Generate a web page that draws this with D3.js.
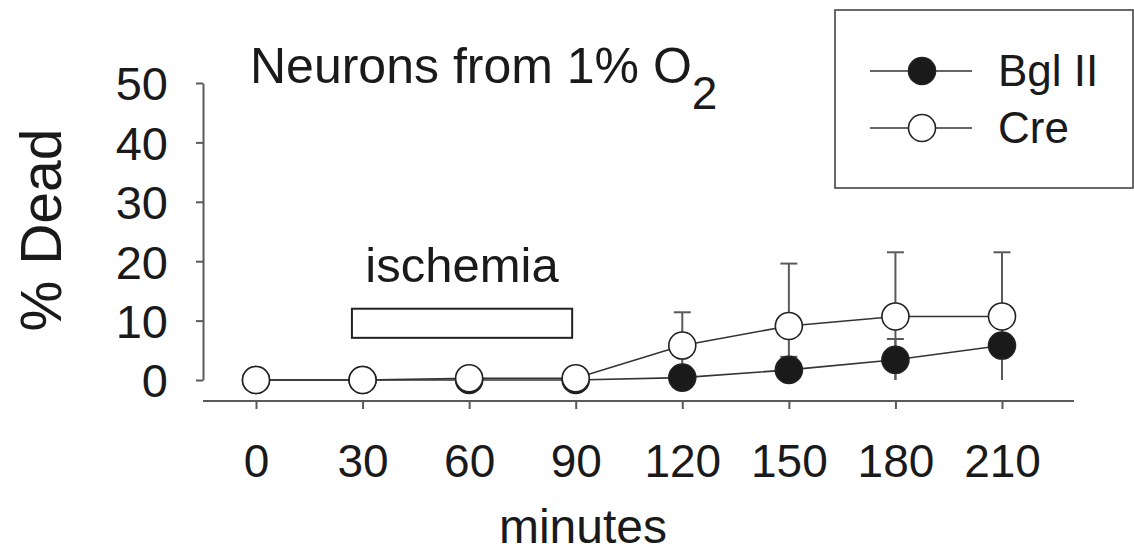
<!DOCTYPE html>
<html>
<head>
<meta charset="utf-8">
<script src="https://cdn.jsdelivr.net/npm/d3@7"></script>
<style>
  body { margin: 0; background: #fff; }
  text { font-family: "Liberation Sans", Arial, Helvetica, sans-serif; fill: #1a1a1a; }
</style>
</head>
<body>
<svg id="svg"></svg>
<script>
const W = 1134, H = 554;

// data
const minutes = [0, 30, 60, 90, 120, 150, 180, 210];
const bglII = [0, 0, 0, 0, 0.4, 1.7, 3.4, 5.8];
const bglErr = [0, 0, 0, 0, 0.5, 2.2, 3.5, 6.0];
const cre = [0, 0, 0.3, 0.3, 5.8, 9.1, 10.7, 10.7];
const creErr = [0, 0, 0, 0, 5.6, 10.5, 10.8, 10.8];
const xTicks = [0, 30, 60, 90, 120, 150, 180, 210];
const yTicks = [0, 10, 20, 30, 40, 50];
const ischemia = [27, 89];      // minutes covered by the bar
const ischemiaY = [7.1, 12];    // % range of the bar
const seriesNames = ["Bgl II", "Cre"];

const svg = d3.select("#svg").attr("width", W).attr("height", H);

const x = d3.scaleLinear().domain([0, 210]).range([256, 1002]);
const y = d3.scaleLinear().domain([0, 50]).range([380, 83]);

const axisCol = "#5a5a5a";
const lineCol = "#333";
const R = 13.5;

// y axis
const yAx = svg.append("g")
    .attr("transform", "translate(203,0)")
    .call(d3.axisLeft(y).tickValues(yTicks).tickSize(7).tickSizeOuter(0).tickPadding(28));
yAx.select(".domain").attr("stroke", axisCol).attr("stroke-width", 2);
yAx.selectAll(".tick line").attr("stroke", axisCol).attr("stroke-width", 2);
yAx.selectAll(".tick text")
    .attr("font-size", 47).attr("font-family", null).attr("fill", "#1a1a1a")
    .attr("dy", "0.36em");

// x axis
const xAx = svg.append("g")
    .attr("transform", "translate(0,401)")
    .call(d3.axisBottom(x).tickValues(xTicks).tickSize(8).tickPadding(35));
xAx.select(".domain").remove();
xAx.append("line").attr("x1", 203).attr("x2", 1074)
    .attr("stroke", axisCol).attr("stroke-width", 2);
xAx.selectAll(".tick line").attr("stroke", axisCol).attr("stroke-width", 2);
xAx.selectAll(".tick text")
    .attr("font-size", 46).attr("font-family", null).attr("fill", "#1a1a1a");

// axis titles
svg.append("text")
    .attr("transform", "translate(61,230) rotate(-90)")
    .attr("text-anchor", "middle")
    .attr("font-size", 57)
    .text("% Dead");

svg.append("text")
    .attr("x", 583).attr("y", 543)
    .attr("text-anchor", "middle")
    .attr("font-size", 48)
    .text("minutes");

// title
const title = svg.append("text").attr("x", 250).attr("y", 83).attr("font-size", 50);
title.append("tspan").text("Neurons from 1% O");
title.append("tspan").attr("dy", 26).attr("font-size", 46).text("2");

// ischemia bar
svg.append("rect")
    .attr("x", x(ischemia[0])).attr("y", y(ischemiaY[1]))
    .attr("width", x(ischemia[1]) - x(ischemia[0]))
    .attr("height", y(ischemiaY[0]) - y(ischemiaY[1]))
    .attr("fill", "#fff").attr("stroke", "#222").attr("stroke-width", 2);
svg.append("text")
    .attr("x", x((ischemia[0] + ischemia[1]) / 2)).attr("y", 282)
    .attr("text-anchor", "middle").attr("font-size", 49)
    .text("ischemia");

// series
const series = [
    { name: seriesNames[0], vals: bglII, err: bglErr, fill: "#1a1a1a" },
    { name: seriesNames[1], vals: cre, err: creErr, fill: "#fff" }
];

const line = d3.line().x((d, i) => x(minutes[i])).y(d => y(d));

// error bars
series.forEach(s => {
    s.vals.forEach((v, i) => {
        const e = s.err[i];
        if (!e) return;
        const hi = v + e, lo = Math.max(0, v - e);
        const g = svg.append("g").attr("stroke", axisCol).attr("stroke-width", 2);
        g.append("line").attr("x1", x(minutes[i])).attr("x2", x(minutes[i]))
            .attr("y1", y(lo)).attr("y2", y(hi));
        g.append("line").attr("x1", x(minutes[i]) - 8.5).attr("x2", x(minutes[i]) + 8.5)
            .attr("y1", y(hi)).attr("y2", y(hi));
        if (v - e > 0) {
            g.append("line").attr("x1", x(minutes[i]) - 8.5).attr("x2", x(minutes[i]) + 8.5)
                .attr("y1", y(lo)).attr("y2", y(lo));
        }
    });
});

series.forEach(s => {
    svg.append("path").attr("d", line(s.vals))
        .attr("fill", "none").attr("stroke", lineCol).attr("stroke-width", 1.6);
});

series.forEach(s => {
    svg.append("g").selectAll("circle").data(s.vals).join("circle")
        .attr("cx", (d, i) => x(minutes[i])).attr("cy", d => y(d))
        .attr("r", R).attr("fill", s.fill)
        .attr("stroke", "#222").attr("stroke-width", 1.6);
});

// legend
svg.append("rect").attr("x", 835).attr("y", 10).attr("width", 298).attr("height", 178)
    .attr("fill", "none").attr("stroke", "#444").attr("stroke-width", 1.6);
const leg = svg.append("g").selectAll("g").data(series).join("g")
    .attr("transform", (d, i) => `translate(0,${71 + i * 57})`);
leg.append("line").attr("x1", 870).attr("x2", 972)
    .attr("stroke", lineCol).attr("stroke-width", 1.6);
leg.append("circle").attr("cx", 922).attr("r", R)
    .attr("fill", d => d.fill).attr("stroke", "#222").attr("stroke-width", 1.6);
leg.append("text").attr("x", 998).attr("y", 15).attr("font-size", 44)
    .text(d => d.name);
</script>
</body>
</html>
